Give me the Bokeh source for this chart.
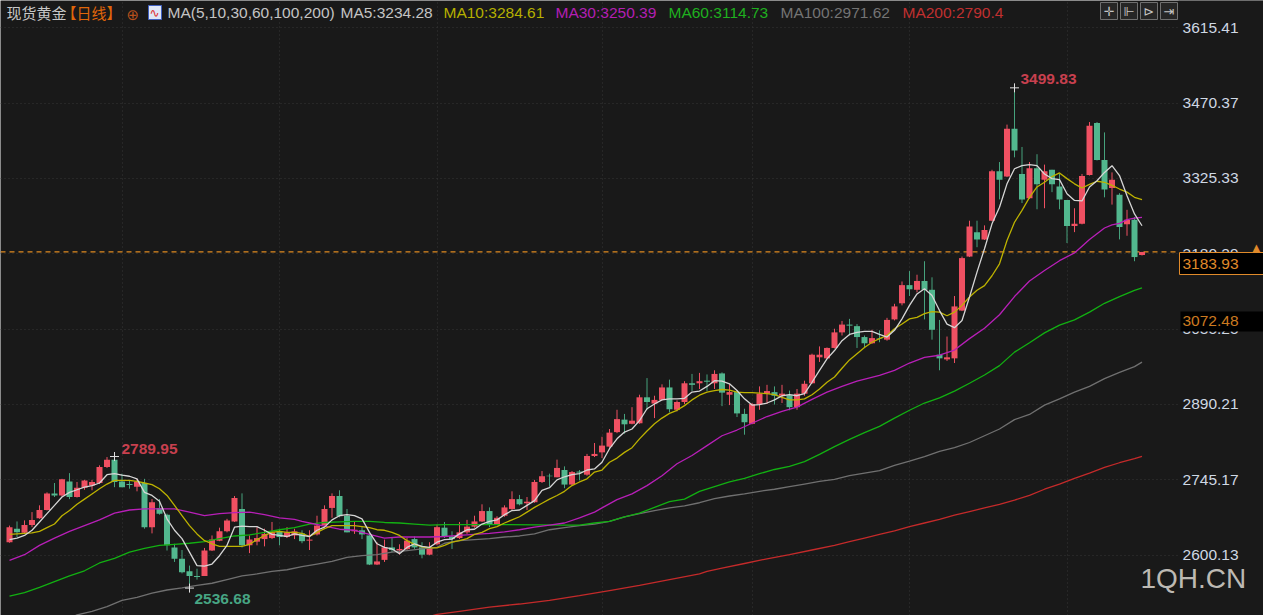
from bokeh.plotting import figure
from bokeh.models import BoxAnnotation, ColumnDataSource, FixedTicker, Label
from bokeh.core.properties import value
from bokeh.embed import file_html
from bokeh.resources import INLINE

opens = [2625,2651,2643,2658,2671,2687,2719,2715,2742,2712,
2730,2734,2739,2770,2784,2742,2737,2732,2739,2654,
2691,2678,2615,2593,2569,2560,2560,2609,2628,2646,
2665,2689,2619,2626,2631,2633,2646,2635,2638,2642,
2628,2640,2658,2691,2714,2676,2646,2648,2638,2582,
2591,2615,2609,2612,2631,2615,2601,2621,2653,2636,
2633,2644,2655,2665,2685,2660,2676,2689,2708,2700,
2702,2741,2753,2750,2764,2736,2761,2755,2791,2798,
2809,2837,2861,2853,2854,2904,2892,2899,2923,2880,
2895,2931,2931,2936,2931,2950,2909,2914,2872,2853,
2890,2911,2914,2907,2908,2885,2911,2931,2981,2979,
2999,3029,3044,3041,3020,3008,3018,3015,3054,3085,
3120,3111,3128,3111,2986,2977,2979,3071,3175,3222,
3208,3244,3339,3329,3421,3334,3287,3345,3323,3342,
3310,3284,3234,3238,3332,3432,3361,3307,3294,3237,
3246,3178]
highs = [2657,2665,2667,2683,2696,2721,2739,2747,2758,2741,
2745,2745,2773,2789,2789.95,2757,2744,2747,2747,2708,
2708,2680,2622,2610,2580,2574,2614,2638,2653,2670,
2714,2719,2638,2654,2651,2664,2651,2654,2651,2648,
2648,2676,2696,2719,2725,2689,2664,2654,2644,2625,
2630,2633,2621,2633,2636,2625,2625,2659,2664,2646,
2664,2668,2676,2698,2692,2675,2696,2723,2716,2712,
2745,2762,2757,2784,2771,2762,2764,2795,2816,2828,
2843,2880,2872,2885,2909,2941,2907,2929,2938,2898,
2935,2949,2951,2948,2956,2952,2930,2917,2882,2893,
2925,2928,2925,2928,2917,2920,2936,2988,3002,3000,
3036,3051,3055,3045,3023,3034,3033,3057,3084,3127,
3147,3140,3166,3135,3053,3021,3099,3175,3244,3244,
3235,3342,3357,3429,3499.83,3386,3357,3372,3352,3342,
3334,3284,3268,3334,3434,3434,3414,3337,3297,3265,
3251,3184]
lows = [2624,2635,2641,2654,2670,2686,2712,2713,2708,2711,
2726,2725,2737,2768,2731,2731,2728,2723,2651,2642,
2678,2609,2587,2565,2536.68,2553,2560,2608,2627,2644,
2664,2615,2604,2619,2617,2631,2619,2633,2631,2623,
2610,2638,2657,2672,2673,2644,2641,2631,2581,2581,
2587,2606,2601,2610,2612,2594,2600,2619,2633,2612,
2631,2641,2653,2664,2654,2660,2674,2686,2696,2687,
2701,2739,2732,2750,2729,2734,2744,2753,2789,2787,
2807,2835,2834,2852,2853,2880,2864,2898,2875,2877,
2891,2916,2920,2916,2920,2887,2889,2866,2832,2852,
2880,2891,2890,2893,2879,2880,2907,2930,2972,2978,
2998,3023,3023,2999,3000,3007,3010,3013,3052,3081,
3099,3106,3054,3015,2956,2974,2970,3070,3174,3193,
3207,3243,3285,3328,3366,3278,3286,3266,3268,3299,
3266,3201,3222,3237,3331,3360,3289,3275,3208,3215,
3166,3177]
closes = [2654,2644,2658,2668,2687,2719,2715,2746,2712,2730,
2744,2741,2770,2784,2741,2731,2735,2742,2654,2702,
2680,2619,2593,2567,2560,2558,2609,2630,2646,2667,
2710,2619,2630,2633,2641,2644,2635,2644,2646,2627,
2630,2657,2689,2714,2675,2644,2649,2640,2582,2588,
2615,2610,2612,2628,2615,2601,2615,2654,2635,2631,
2644,2655,2665,2685,2660,2672,2692,2708,2698,2703,
2741,2752,2752,2768,2736,2760,2759,2791,2795,2811,
2836,2862,2852,2859,2904,2895,2899,2923,2881,2895,
2931,2928,2935,2934,2949,2913,2914,2873,2856,2891,
2911,2916,2907,2911,2885,2911,2930,2986,2986,2999,
3029,3044,3042,3020,3008,3018,3017,3053,3079,3120,
3112,3128,3111,3034,2979,2981,3079,3172,3233,3208,
3226,3339,3323,3421,3379,3285,3345,3314,3339,3314,
3285,3234,3238,3330,3427,3361,3304,3323,3232,3246,
3174,3183.93]

ma5 = [2630,2633,2638,2648,2664,2680,2696,2712,2721,2726,
2731,2734,2739,2755,2757,2754,2752,2747,2721,2715,
2704,2670,2648,2632,2606,2580,2579,2583,2599,2619,
2654,2656,2655,2655,2648,2640,2638,2636,2641,2638,
2636,2648,2654,2668,2676,2678,2676,2670,2644,2622,
2615,2612,2603,2615,2622,2617,2615,2625,2630,2631,
2641,2649,2650,2660,2665,2668,2678,2686,2687,2696,
2705,2725,2730,2745,2751,2755,2757,2764,2766,2779,
2805,2824,2837,2843,2859,2882,2891,2899,2901,2901,
2902,2914,2916,2925,2936,2935,2930,2917,2901,2889,
2890,2893,2899,2907,2909,2907,2911,2933,2956,2978,
2994,3013,3025,3029,3031,3031,3025,3020,3033,3055,
3081,3103,3113,3100,3071,3045,3038,3052,3097,3145,
3190,3238,3270,3315,3344,3350,3352,3350,3334,3325,
3323,3296,3283,3282,3309,3321,3337,3350,3331,3292,
3257,3234.28]
ma10 = [2640,2641,2642,2643,2646,2653,2660,2676,2686,2698,
2708,2718,2728,2737,2744,2744,2744,2742,2739,2736,
2728,2715,2696,2676,2657,2641,2628,2622,2617,2617,
2617,2617,2621,2630,2638,2644,2646,2644,2644,2642,
2636,2644,2651,2657,2657,2657,2657,2655,2653,2649,
2648,2644,2638,2628,2621,2616,2614,2614,2619,2625,
2628,2632,2640,2644,2651,2655,2662,2668,2674,2683,
2692,2700,2708,2715,2723,2734,2741,2747,2760,2764,
2779,2787,2798,2807,2824,2839,2853,2864,2873,2879,
2888,2899,2908,2914,2917,2919,2918,2914,2913,2913,
2912,2911,2909,2904,2899,2899,2901,2909,2920,2933,
2943,2960,2976,2988,3000,3010,3017,3023,3036,3045,
3055,3058,3065,3069,3068,3061,3068,3081,3097,3110,
3119,3138,3161,3206,3241,3264,3289,3309,3318,3329,
3336,3325,3315,3307,3314,3320,3318,3312,3305,3299,
3289,3284.61]

ma30_x = [0,2,4,6,8,10,12,14,16,18,20,22,24,26,28,30,32,34,36,38,39,
40,42,44,46,48,50,52,54,56,58,60,62,64,66,68,70,72,74,76,78,79,
81,83,85,87,89,91,93,95,97,99,101,103,105,107,109,111,113,
116,118,120,122,124,126,128,130,132,134,136,138,140,142,144,145,146,147,148,149,150,151]
ma30 = [2590,2601,2619,2633,2646,2657,2668,2681,2687,2689,2689,2689,2683,2676,2680,2682,2683,2678,2672,2669,2665,
2662,2656,2650,2648,2640,2633,2635,2635,2635,2636,2638,2640,2642,2645,2649,2654,2658,2662,2672,2683,2691,
2707,2718,2734,2753,2776,2792,2811,2830,2841,2854,2867,2877,2885,2900,2914,2925,2935,
2946,2956,2970,2981,2985,2995,3017,3037,3063,3098,3128,3148,3167,3182,3208,3219,3230,3236,3239,3246,3249,3250.39]

ma60_x = [0,2,4,6,8,10,12,14,16,18,20,22,24,26,28,30,32,34,36,38,
40,42,44,46,48,50,52,54,56,58,60,66,74,76,78,80,82,84,86,88,90,
92,94,96,98,100,102,104,106,108,110,112,114,116,118,120,122,124,126,
128,130,132,134,136,138,140,142,144,146,148,150,151]
ma60 = [2521,2528,2538,2549,2560,2570,2585,2594,2606,2613,2619,2621,2623,2626,2632,2637,2639,2644,2649,2653,
2660,2663,2664,2665,2665,2663,2662,2660,2658,2659,2659,2659,2658,2658,2662,2665,2674,2681,2692,2703,2708,
2723,2732,2741,2748,2757,2765,2771,2780,2794,2809,2823,2836,2848,2864,2879,2893,2903,2916,
2931,2947,2965,2991,3009,3028,3043,3053,3068,3085,3098,3110,3114.73]

ma100_x = [7,9,11,13,15,17,19,21,23,25,27,29,31,33,35,37,39,
41,43,45,47,49,51,53,55,57,58,60,62,64,66,68,70,72,74,76,78,80,82,84,86,88,90,
92,94,96,98,100,102,104,106,108,110,112,114,116,118,120,122,124,126,128,130,
132,134,136,138,140,142,144,146,148,150,151]
ma100 = [2473,2485,2492,2501,2513,2519,2527,2533,2537,2542,2546,2553,2560,2564,2569,2572,2578,
2583,2588,2596,2599,2601,2606,2609,2612,2615,2623,2628,2630,2632,2635,2637,2641,2649,2653,2657,2660,2665,2674,2680,2686,2691,2695,
2701,2709,2714,2718,2723,2727,2732,2737,2742,2746,2753,2758,2763,2773,2781,2790,2800,2807,2817,2830,
2843,2861,2871,2889,2901,2914,2925,2940,2952,2963,2971.62]

ma200_x = [56,57,60,64,68,72,76,80,84,88,92,93,95,98,101,104,107,110,
112,114,116,118,120,122,124,126,128,130,132,134,136,138,140,142,144,146,148,150,151]
ma200 = [2482,2486,2492,2500,2506,2513,2522,2532,2542,2553,2564,2569,2575,2584,2593,2601,2610,2619,
2626,2633,2640,2647,2655,2662,2669,2677,2684,2691,2698,2706,2715,2727,2737,2748,2758,2769,2778,2786,2790.4]

axis_ticks = [3615.41,3470.37,3325.33,3180.29,3035.25,2890.21,2745.17,2600.13]
month_starts = [15,36,57,79,99,120,141]
last_price = 3183.93
avg_price = 3072.48
high_a = (14, 2789.95)
high_b = (134, 3499.83)
low_a = (24, 2536.68)
header = [("现货黄金",6,"#c8c8c8","Noto Sans CJK SC"),("【日线】",61,"#e0660a","Noto Sans CJK SC"),
          ("MA(5,10,30,60,100,200)",167,"#c4c4c4","Liberation Sans"),("MA5:3234.28",340,"#c4c4c4","Liberation Sans"),
          ("MA10:3284.61",443,"#b5b000","Liberation Sans"),("MA30:3250.39",555,"#b31fb3","Liberation Sans"),
          ("MA60:3114.73",668,"#1fb01f","Liberation Sans"),("MA100:2971.62",780,"#747474","Liberation Sans"),
          ("MA200:2790.4",902,"#c03030","Liberation Sans")]

UP, DOWN = "#ef5062", "#52b78e"
idx = list(range(len(opens)))
colors = [UP if c >= o else DOWN for o, c in zip(opens, closes)]
wick_colors = [UP if c >= o else "#46a27d" for o, c in zip(opens, closes)]
src = ColumnDataSource(dict(x=idx, o=opens, h=highs, l=lows, c=closes,
                            top=[max(a, b) for a, b in zip(opens, closes)],
                            bot=[min(a, b) for a, b in zip(opens, closes)],
                            col=colors, wc=wick_colors))

PW, PH = 1263, 615
BG = "#191919"
X0, X1 = -1.2, 167.2
AXIS_AT = 155.87
Y0, Y1 = 2483.9, 3667.97
FS = "15.5px"
p = figure(width=PW, height=PH, output_backend="svg", toolbar_location=None,
           x_range=(X0, X1), y_range=(Y0, Y1), y_axis_location="right",
           background_fill_color=BG, border_fill_color=BG, outline_line_color=None,
           min_border=0)
p.xaxis.visible = False
ax = p.yaxis[0]
ax.fixed_location = AXIS_AT
ax.ticker = FixedTicker(ticks=axis_ticks)
ax.major_label_overrides = {t: f"{t:.2f}" for t in axis_ticks}
ax.axis_line_color = None
ax.major_tick_line_color = None
ax.minor_tick_line_color = None
ax.major_tick_out = 0
ax.major_label_standoff = 4
ax.major_label_text_color = "#cfd8e4"
ax.major_label_text_font = "Liberation Sans"
ax.major_label_text_font_size = FS

p.ygrid.ticker = FixedTicker(ticks=axis_ticks)
p.xgrid.ticker = FixedTicker(ticks=month_starts)
for g in (p.xgrid[0], p.ygrid[0]):
    g.grid_line_color = "#363636"
    g.grid_line_dash = "1 3"
    g.grid_line_width = 1

# blank strip under the price scale, so the grid stops where the scale begins
p.quad(left=[AXIS_AT], right=[X1], bottom=[Y0], top=[Y1], fill_color=BG, line_color=None)

p.segment([X0], [last_price], [AXIS_AT], [last_price], line_color="#e08a20", line_dash="5 4", line_width=1.3)

p.segment("x", "h", "x", "l", source=src, line_color="wc", line_width=1)
p.vbar("x", 0.8, "bot", "top", source=src, fill_color="col", line_color="col", line_width=0)

p.line(ma200_x, ma200, line_color="#c42a2a", line_width=1.3)
p.line(ma100_x, ma100, line_color="#707070", line_width=1.3)
p.line(ma60_x, ma60, line_color="#12b012", line_width=1.3)
p.line(ma30_x, ma30, line_color="#b81fb8", line_width=1.3)
p.line(idx, ma10, line_color="#bdb200", line_width=1.3)
p.line(idx, ma5, line_color="#d6d6d6", line_width=1.3)

p.scatter([high_a[0], high_b[0], low_a[0]], [high_a[1], high_b[1], low_a[1]],
          marker="cross", size=9, line_color="#e0e0e0", line_width=1)

bold = dict(text_font=value("Liberation Sans"), text_font_size=FS, text_font_style="bold",
            text_baseline="middle", text_align="left")
p.text([high_a[0]], [high_a[1]], text=[f"{high_a[1]:.2f}"], x_offset=7, y_offset=-8, text_color="#c8404f", **bold)
p.text([high_b[0]], [high_b[1]], text=[f"{high_b[1]:.2f}"], x_offset=6, y_offset=-9, text_color="#c8404f", **bold)
p.text([low_a[0]], [low_a[1]], text=[f"{low_a[1]:.2f}"], x_offset=5, y_offset=11, text_color="#47a583", **bold)

def screen_label(text, x, y, color, font="Liberation Sans", size=FS, **kw):
    p.add_layout(Label(x=x, y=PH - y, x_units="screen", y_units="screen", text=text, text_color=color,
                       text_font=font, text_font_size=size, text_baseline="middle", **kw))

def screen_box(left, right, top, bottom, fill, line=None):
    p.add_layout(BoxAnnotation(left=left, right=right, top=PH - top, bottom=PH - bottom,
                               left_units="screen", right_units="screen", top_units="screen", bottom_units="screen",
                               fill_color=fill, fill_alpha=1, line_color=line, line_width=1, line_alpha=1 if line else 0))

for t, x, c, f in header:
    screen_label(t, x, 12, c, font=f, size="15px" if f != "Liberation Sans" else FS)
screen_label("⊕", 126, 14, "#b8501c", font="DejaVu Sans", size="15px")
screen_box(148, 161, 5, 19, "#dfe6f5", "#4060c0")
screen_label("∿", 149, 12, "#e03030", font="DejaVu Sans", size="12px")

for ch, x in zip(["✛", "⊩", "⊳", "⇥"], [1100, 1120, 1140, 1160]):
    screen_box(x, x + 17, 2, 19, "#262626", "#707070")
    screen_label(ch, x + 3, 11, "#c4c4c4", font="DejaVu Sans", size="13px")

screen_box(1180, 1263, 311, 331, "#000000")
screen_label(f"{avg_price:.2f}", 1182, 320, "#cc7a20")
screen_box(1179, 1263, 252, 274, "#000000", "#e08a2a")
screen_label(f"{last_price:.2f}", 1182, 263, "#e08a2a")
screen_label("▲", 1252, 247, "#e08a2a", font="DejaVu Sans", size="10px")
screen_label("1QH.CN", 1140, 578, "#bdb9b3", size="28px")

open("out.html", "w").write(file_html(p, INLINE))
